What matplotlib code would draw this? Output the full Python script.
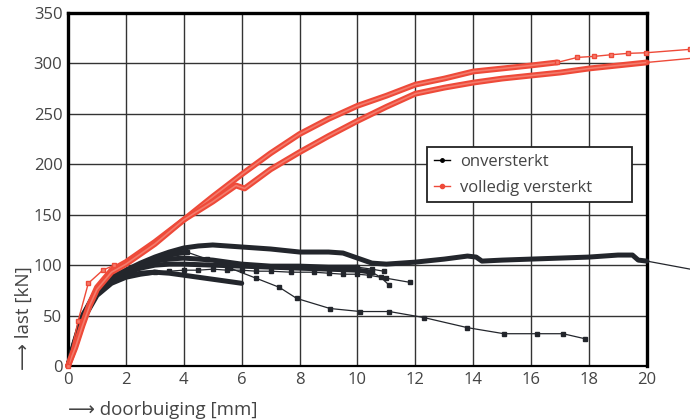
import numpy as np
import matplotlib.pyplot as plt
from matplotlib.lines import Line2D

plt.rcParams['font.family'] = ['Open Sans', 'DejaVu Sans']

# onversterkt: dense (thick) parts and sparse (thin + markers) parts
b1_x = [0, 0.2, 0.5, 1, 1.5, 2, 2.5, 3, 3.5, 4, 4.5, 5, 5.5, 6, 7, 8, 9, 9.5, 10, 10.5,
        11, 12, 13, 13.8, 14.1, 14.3, 15, 16, 17, 18, 19, 19.5, 19.7, 20]
b1_y = [0, 22, 50, 76, 88, 95, 102, 108, 113, 117, 119, 120, 119, 118, 116, 113, 113, 112, 107, 102,
        101, 103, 106, 109, 108, 104, 105, 106, 107, 108, 110, 110, 105, 104]
b1_tail_x = [20, 21.5]
b1_tail_y = [104, 96]

b2_x = [0, 0.2, 0.5, 1, 1.5, 2, 2.5, 3, 3.5, 4, 4.5, 5, 5.5, 6]
b2_y = [0, 18, 45, 70, 82, 88, 91, 93, 92, 90, 88, 86, 84, 82]

b3_x = [0, 0.2, 0.5, 1, 1.5, 2, 2.5, 3, 3.5, 4.1]
b3_y = [0, 20, 48, 74, 86, 94, 100, 106, 110, 113]
b3_sx = [4.1, 4.8, 5.6, 6.5, 7.3, 7.9, 9.05, 10.1, 11.1, 12.3, 13.8, 15.06, 16.2, 17.1, 17.86]
b3_sy = [113, 106, 97, 87, 78, 67, 57, 54, 54, 48, 38, 32, 32, 32, 27]

b4_x = [0, 0.2, 0.5, 1, 1.5, 2, 2.5, 3, 3.5, 4, 5, 6, 7, 8, 9, 10, 10.5]
b4_y = [0, 20, 47, 73, 85, 92, 97, 100, 101, 101, 100, 99, 98, 97, 96, 95, 93]
b4_sx = [10.5, 10.8, 11.1]
b4_sy = [93, 88, 80]

b5_x = [0, 0.2, 0.5, 1, 1.5, 2, 2.5, 3, 3.5, 4, 5, 6, 7, 8, 9, 10]
b5_y = [0, 21, 49, 75, 87, 94, 100, 104, 106, 107, 105, 101, 99, 99, 98, 98]
b5_sx = [10, 10.5, 10.9]
b5_sy = [98, 96, 94]

b6_x = [0, 0.2, 0.5, 1, 1.5, 2, 2.5, 3]
b6_y = [0, 19, 46, 72, 83, 89, 92, 93]
b6_sx = [3, 3.5, 4, 4.5, 5, 5.5, 6, 6.5, 7, 7.7, 8.5, 9, 9.5, 10, 10.4, 11, 11.8]
b6_sy = [93, 94, 95, 95, 96, 95, 95, 94, 94, 93, 93, 92, 91, 91, 90, 87, 83]

# volledig versterkt
r1_x = [0, 0.25, 0.5, 0.75, 1, 1.5, 2, 3, 4, 5, 6, 7, 8, 9, 10, 11, 12, 13, 14, 15, 16, 16.9]
r1_y = [0, 20, 42, 62, 78, 95, 103, 123, 145, 168, 190, 211, 230, 245, 258, 268, 279, 285, 292, 295, 298, 301]
r1_sx = [16.9, 17.6, 18.17, 18.75, 19.35, 19.97, 21.5]
r1_sy = [301, 306, 307, 308.6, 310, 310.6, 314]

r2_x = [0, 0.25, 0.5, 0.75, 1, 1.5, 2, 3, 4, 5, 5.8, 6.1, 7, 8, 9, 10, 11, 12, 13, 14, 15, 16, 17, 18, 19, 20]
r2_y = [0, 18, 40, 60, 76, 93, 101, 121, 145, 163, 179, 176, 195, 212, 228, 243, 257, 270, 276, 281, 285, 288, 291, 295, 298, 301]
r2_tail_x = [20, 21.5]
r2_tail_y = [301, 305]

r3_sx = [0, 0.35, 0.7, 1.2, 1.6]
r3_sy = [0, 45, 82, 95, 100]

black = '#23262c'
red = '#ee4a39'
red_light = '#f37b6c'
txt = '#444444'

fig = plt.figure(figsize=(6.9, 4.2), dpi=100)
ax = fig.add_axes([0.0986, 0.1286, 0.839, 0.8404])

ax.set_xlim(0, 20)
ax.set_ylim(0, 350)
ax.set_xticks(np.arange(0, 21, 2))
ax.set_yticks(np.arange(0, 351, 50))
ax.grid(True, color='#333333', lw=1.0)
ax.set_axisbelow(True)
ax.tick_params(length=0, labelsize=12, labelcolor=txt, pad=4)
for s in ['left', 'top', 'right']:
    ax.spines[s].set_linewidth(2.4)
ax.spines['bottom'].set_linewidth(1.6)

# black series
for x, y in [(b1_x, b1_y), (b2_x, b2_y), (b3_x, b3_y), (b4_x, b4_y), (b5_x, b5_y), (b6_x, b6_y)]:
    ax.plot(x, y, color=black, lw=3.6, solid_capstyle='round', clip_on=False, zorder=3)
for x, y in [(b3_sx, b3_sy), (b4_sx, b4_sy), (b5_sx, b5_sy), (b6_sx, b6_sy)]:
    ax.plot(x, y, color=black, lw=0.9, marker='s', ms=2.5, clip_on=False, zorder=3)
ax.plot(b1_tail_x, b1_tail_y, color=black, lw=0.9, clip_on=False, zorder=3)

# red series
for x, y in [(r1_x, r1_y), (r2_x, r2_y)]:
    ax.plot(x, y, color=red, lw=4.2, solid_capstyle='round', clip_on=False, zorder=4)
    ax.plot(x, y, color=red_light, lw=1.2, clip_on=False, zorder=4)
ax.plot(r1_sx, r1_sy, color=red, lw=1.0, marker='s', ms=3.2, mfc=red_light, mec=red,
        clip_on=False, zorder=4)
ax.plot(r3_sx, r3_sy, color=red, lw=1.0, marker='s', ms=3.2, mfc=red_light, mec=red,
        clip_on=False, zorder=4)
ax.plot(r2_tail_x, r2_tail_y, color=red, lw=1.0, clip_on=False, zorder=4)

handles = [Line2D([], [], color='k', lw=1, marker='o', ms=2.5),
           Line2D([], [], color=red, lw=1, marker='o', ms=3)]
leg = ax.legend(handles, ['onversterkt', 'volledig versterkt'], loc='upper left',
                bbox_to_anchor=(0.62, 0.45, 0.354, 0.17), mode='expand', fancybox=False,
                framealpha=1, edgecolor='#222222', fontsize=12, handlelength=1.0,
                handletextpad=0.6, borderpad=0.4, labelspacing=0.6, borderaxespad=0)
leg.get_frame().set_linewidth(1.3)
leg.set_zorder(5)
leg._legend_box.align = 'left'
for t in leg.get_texts():
    t.set_color(txt)

fig.text(0.098, 0.012, '\u27f6 doorbuiging [mm]', fontsize=13.5, color=txt,
         family=['Open Sans', 'DejaVu Sans'])
fig.text(0.035, 0.118, '\u27f6 last [kN]', fontsize=13.5, color=txt, rotation=90,
         family=['Open Sans', 'DejaVu Sans'], va='bottom', ha='center')

fig.savefig('out.png', dpi=100)
